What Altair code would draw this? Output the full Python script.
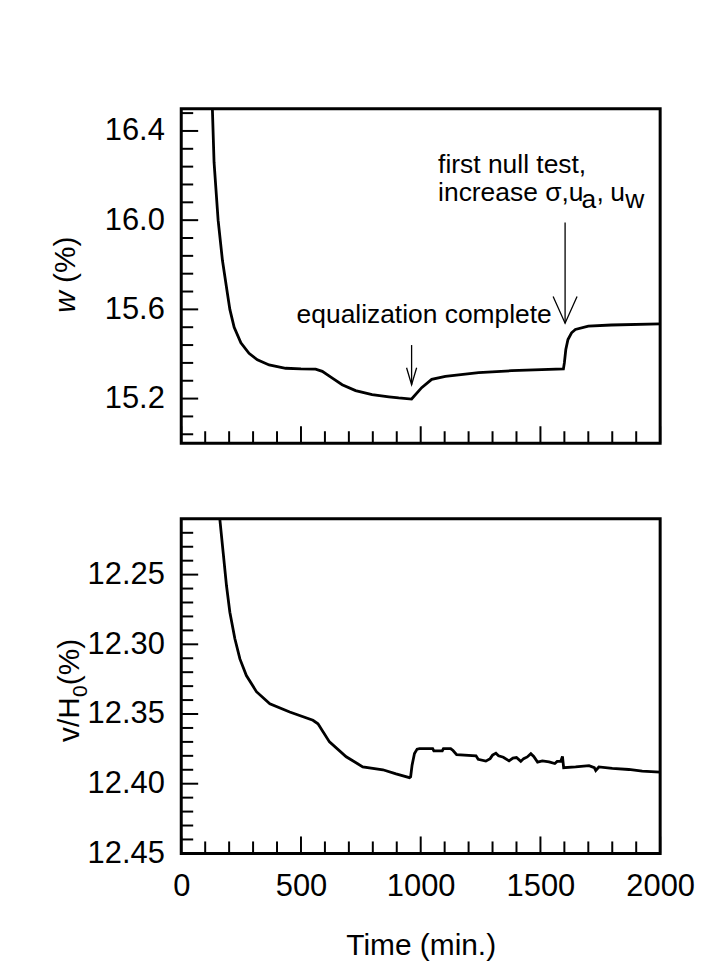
import altair as alt
import pandas as pd

# ---------------- data ----------------
time_w = [110, 130, 137, 154, 172, 193, 203, 221, 249, 283, 318, 367, 436, 500,
          561, 589, 631, 672, 728, 797, 867, 908, 962, 1004, 1046, 1103, 1242,
          1379, 1596, 1600, 1606, 1615, 1630, 1646, 1700, 1796, 2000]
w_pct = [17.0, 16.5, 16.26, 16.0, 15.82, 15.67, 15.6, 15.52, 15.45, 15.403,
         15.374, 15.351, 15.336, 15.333, 15.332, 15.322, 15.292, 15.262, 15.236,
         15.218, 15.208, 15.203, 15.198, 15.249, 15.286, 15.30, 15.316, 15.325,
         15.333, 15.36, 15.42, 15.465, 15.495, 15.51, 15.525, 15.53, 15.535]

time_v = [150, 161, 175, 189, 203, 224, 245, 272, 314, 370, 453, 550, 571, 619,
          689, 758, 842, 897, 953, 958, 964, 974, 985, 995, 1050, 1055, 1090,
          1095, 1125, 1135, 1150, 1231, 1240, 1272, 1290, 1300, 1314, 1325, 1345,
          1369, 1385, 1400, 1418, 1430, 1445, 1460, 1472, 1488, 1508, 1536, 1560,
          1570, 1585, 1592, 1597, 1647, 1703, 1725, 1731, 1744, 1800, 1869, 1925,
          2000]
v_h0 = [12.195, 12.21, 12.234, 12.258, 12.277, 12.296, 12.3105, 12.3224, 12.334,
        12.3426, 12.3486, 12.3545, 12.357, 12.370, 12.3807, 12.3879, 12.390,
        12.393, 12.3957, 12.395, 12.3867, 12.3783, 12.3752, 12.3748, 12.3748,
        12.3765, 12.3765, 12.3748, 12.3748, 12.3762, 12.3792, 12.380, 12.3825,
        12.3838, 12.382, 12.3795, 12.3782, 12.380, 12.381, 12.3836, 12.3816,
        12.3812, 12.384, 12.382, 12.3808, 12.3785, 12.3805, 12.3845, 12.3836,
        12.3843, 12.3855, 12.384, 12.3838, 12.3805, 12.3885, 12.388, 12.387,
        12.3885, 12.3905, 12.388, 12.389, 12.3898, 12.391, 12.3917]

x_major = [0, 500, 1000, 1500, 2000]
x_minor = [100, 200, 300, 400, 600, 700, 800, 900, 1100, 1200, 1300, 1400,
           1600, 1700, 1800, 1900]
w_major = [15.2, 15.6, 16.0, 16.4]
w_minor = [15.04, 15.12, 15.28, 15.36, 15.44, 15.52, 15.68, 15.76, 15.84, 15.92,
           16.08, 16.16, 16.24, 16.32, 16.48]
v_major = [12.25, 12.30, 12.35, 12.40, 12.45]
v_minor = [12.22, 12.23, 12.24, 12.26, 12.27, 12.28, 12.29, 12.31, 12.32, 12.33,
           12.34, 12.36, 12.37, 12.38, 12.39, 12.41, 12.42, 12.43, 12.44]

# annotation arrows (data coordinates)
arrow_id = ["eq", "eq", "eq", "null", "null", "null"]
arrow_t = [941, 962, 983, 1553, 1603, 1653]
arrow_w = [15.338, 15.262, 15.338, 15.658, 15.538, 15.658]
shaft_t = [962, 1603]
shaft_top = [15.44, 15.99]
shaft_tip = [15.262, 15.538]

# ---------------- chart ----------------
W, H = 481, 336
FONT = "Liberation Sans"
MAJ, MIN = 17, 12
LBL = 31

xs = alt.Scale(domain=[0, 2000], nice=False, zero=False)
ys_w = alt.Scale(domain=[15.0, 16.5], nice=False, zero=False)
ys_v = alt.Scale(domain=[12.21, 12.45], nice=False, zero=False, reverse=True)

ax_top_y = alt.Axis(values=w_major, format=".1f", ticks=False, tickSize=0,
                    domain=False, grid=False, labelFontSize=LBL, labelPadding=17,
                    labelColor="black", labelFont=FONT, title=None)
ax_bot_x = alt.Axis(values=x_major, format="d", ticks=False, tickSize=0,
                    domain=False, grid=False, labelFontSize=LBL, labelPadding=18,
                    labelFlush=False, labelOverlap=False, labelColor="black",
                    labelFont=FONT, title="Time (min.)", titleFontSize=30,
                    titleFontWeight="normal", titlePadding=30,
                    titleColor="black", titleFont=FONT)
ax_bot_y = alt.Axis(values=v_major, format=".2f", ticks=False, tickSize=0,
                    domain=False, grid=False, labelFontSize=LBL, labelPadding=17,
                    labelColor="black", labelFont=FONT, title=None)


def xticks(vals, length, axis):
    return alt.Chart(pd.DataFrame({"t": vals})).mark_rule(
        color="black", strokeWidth=2).encode(
        x=alt.X("t:Q", scale=xs, axis=axis),
        y=alt.value(H), y2=alt.value(H - length))


def yticks(vals, length, scale, axis):
    return alt.Chart(pd.DataFrame({"y": vals})).mark_rule(
        color="black", strokeWidth=2).encode(
        y=alt.Y("y:Q", scale=scale, axis=axis),
        x=alt.value(0), x2=alt.value(length))


def txt(s, x, y, size=26.5, style="normal", angle=0, align="left"):
    return alt.Chart(pd.DataFrame({"k": [0]})).mark_text(
        text=s, fontSize=size, font=FONT, fontStyle=style, angle=angle,
        align=align, baseline="alphabetic", color="black").encode(
        x=alt.value(x), y=alt.value(y))


# ---- top panel ----
df_w = pd.DataFrame({"t": time_w, "w": w_pct})
line_w = alt.Chart(df_w).mark_line(color="black", strokeWidth=2.8, clip=True).encode(
    x=alt.X("t:Q", scale=xs, axis=None),
    y=alt.Y("w:Q", scale=ys_w, axis=ax_top_y),
)

shafts = alt.Chart(pd.DataFrame({"t": shaft_t, "y1": shaft_top, "y2": shaft_tip})).mark_rule(
    color="black", strokeWidth=1.3).encode(
    x=alt.X("t:Q", scale=xs, axis=None),
    y=alt.Y("y1:Q", scale=ys_w, axis=ax_top_y), y2="y2:Q")
wings = alt.Chart(pd.DataFrame({"id": arrow_id, "t": arrow_t, "w": arrow_w})).mark_line(
    color="black", strokeWidth=1.3).encode(
    x=alt.X("t:Q", scale=xs, axis=None),
    y=alt.Y("w:Q", scale=ys_w, axis=ax_top_y), detail="id:N")

top = alt.layer(
    line_w,
    xticks(x_major, MAJ, None), xticks(x_minor, MIN, None),
    yticks(w_major, MAJ, ys_w, ax_top_y), yticks(w_minor, MIN, ys_w, ax_top_y),
    shafts, wings,
    txt("equalization complete", 244, 215, align="center"),
    txt("first null test,", 258, 65),
    txt("increase \u03c3,u", 258, 93),
    txt("a", 402, 100),
    txt(",", 417, 93),
    txt("u", 431, 93),
    txt("w", 446, 100),
    txt("w", -107, 205, size=30, style="italic", angle=270),
    txt("(%)", -107, 175, size=30, angle=270),
).properties(width=W, height=H)

# ---- bottom panel ----
df_v = pd.DataFrame({"t": time_v, "v": v_h0})
line_v = alt.Chart(df_v).mark_line(color="black", strokeWidth=2.8, clip=True).encode(
    x=alt.X("t:Q", scale=xs, axis=ax_bot_x),
    y=alt.Y("v:Q", scale=ys_v, axis=ax_bot_y),
)

bottom = alt.layer(
    line_v,
    xticks(x_major, MAJ, ax_bot_x), xticks(x_minor, MIN, ax_bot_x),
    yticks(v_major, MAJ, ys_v, ax_bot_y), yticks(v_minor, MIN, ys_v, ax_bot_y),
    txt("v/H", -103, 224, size=30, angle=270),
    txt("0", -95, 179, size=21, angle=270),
    txt("(%)", -103, 167, size=30, angle=270),
).properties(width=W, height=H)

chart = alt.vconcat(top, bottom, spacing=71).properties(
    padding={"left": 41, "top": 97, "right": 0, "bottom": 0}
).configure(font=FONT, background="white").configure_view(
    stroke="black", strokeWidth=3)

chart.save("out.html", embed_options={"renderer": "svg", "actions": False})
